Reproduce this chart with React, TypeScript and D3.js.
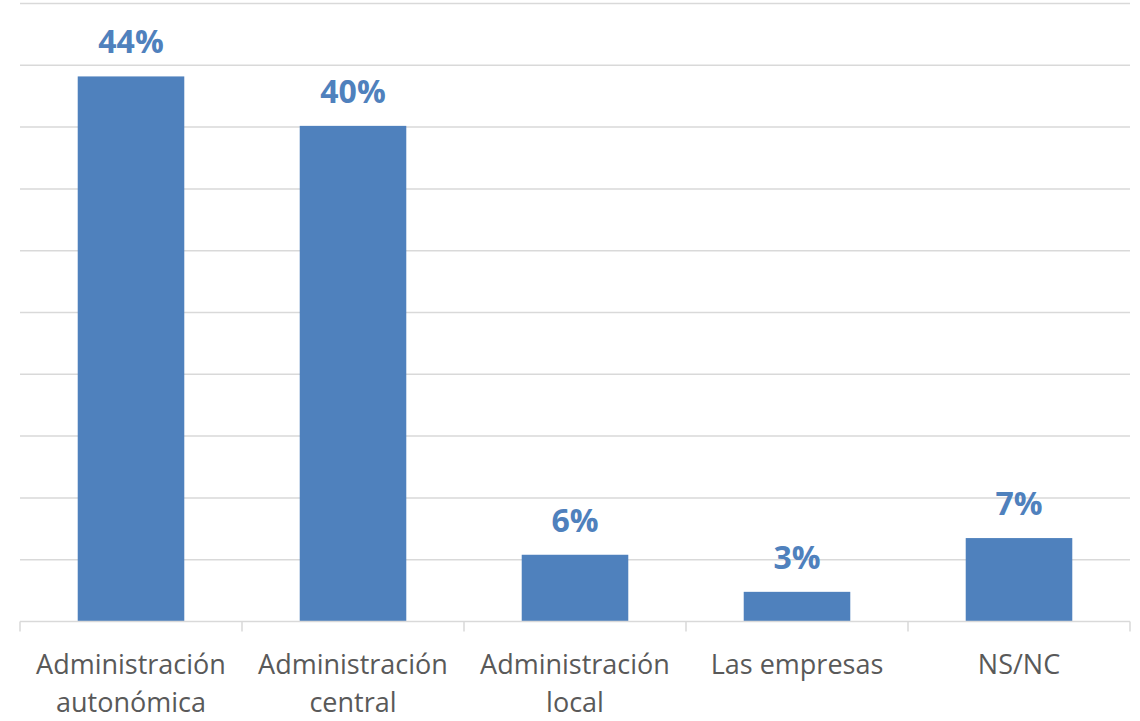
import React from "react";
import * as d3 from "d3";

const categories: string[][] = [
  ["Administración", "autonómica"],
  ["Administración", "central"],
  ["Administración", "local"],
  ["Las empresas"],
  ["NS/NC"],
];
const values: number[] = [44.1, 40.1, 5.4, 2.4, 6.75];
const valueLabels: string[] = ["44%", "40%", "6%", "3%", "7%"];
const gridTicks: number[] = [0, 5, 10, 15, 20, 25, 30, 35, 40, 45, 50];

const W = 1140;
const H = 721;
const left = 20;
const right = 1130;
const top = 3.5;
const bottom = 621.5;

export default function App() {
  const x = d3
    .scaleBand<number>()
    .domain(d3.range(values.length))
    .range([left, right])
    .paddingInner(0.52)
    .paddingOuter(0.26);
  const y = d3.scaleLinear().domain([0, 50]).range([bottom, top]);
  const step = (right - left) / values.length;
  const color = "#4F81BD";

  return (
    <svg
      width={W}
      height={H}
      style={{ position: "absolute", left: 0, top: 0, background: "#fff" }}
    >
      {gridTicks.slice(1).map((t) => (
        <line
          key={t}
          x1={left}
          x2={right}
          y1={y(t)}
          y2={y(t)}
          stroke="#d9d9d9"
          strokeWidth={1.5}
        />
      ))}
      {values.map((v, i) => (
        <rect
          key={i}
          x={x(i)}
          y={y(v)}
          width={x.bandwidth()}
          height={y(0) - y(v)}
          fill={color}
        />
      ))}
      <line x1={left} x2={right} y1={bottom} y2={bottom} stroke="#d9d9d9" strokeWidth={1.5} />
      {d3.range(values.length + 1).map((i) => (
        <line
          key={i}
          x1={left + i * step}
          x2={left + i * step}
          y1={bottom}
          y2={bottom + 10}
          stroke="#d9d9d9"
          strokeWidth={1.5}
        />
      ))}
      {values.map((v, i) => (
        <text
          key={i}
          x={(x(i) as number) + x.bandwidth() / 2}
          y={y(v) - 23}
          textAnchor="middle"
          fill={color}
          fontFamily="'Open Sans', sans-serif"
          fontWeight="bold"
          fontSize={32}
        >
          {valueLabels[i]}
        </text>
      ))}
      {categories.map((lines, i) => (
        <text
          key={i}
          x={left + (i + 0.5) * step}
          textAnchor="middle"
          fill="#595959"
          fontFamily="'Open Sans', sans-serif"
          fontSize={27}
        >
          {lines.map((l, j) => (
            <tspan key={j} x={left + (i + 0.5) * step} y={674 + j * 38}>
              {l}
            </tspan>
          ))}
        </text>
      ))}
    </svg>
  );
}
